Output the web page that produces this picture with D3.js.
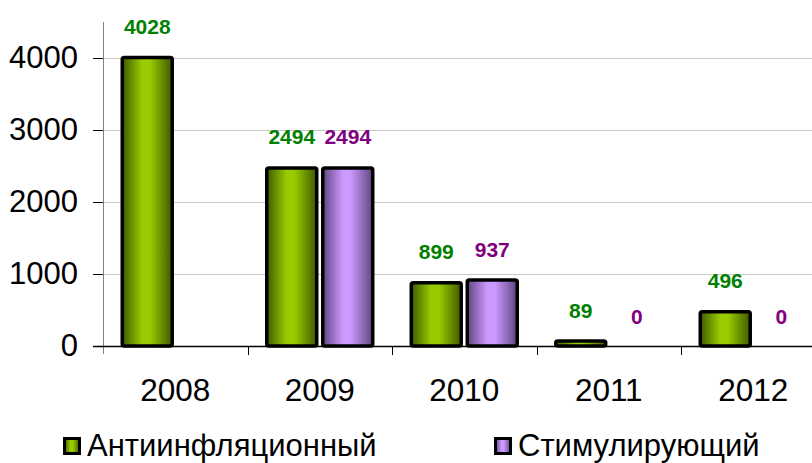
<!DOCTYPE html>
<html lang="ru">
<head>
    <meta charset="UTF-8">
    <title>Антиинфляционный / Стимулирующий</title>
    <script src="https://d3js.org/d3.v7.min.js"></script>
    <style>
        body { margin: 0; background: #fff; }
        svg { font-family: "Liberation Sans", Arial, sans-serif; }
        .val { font-weight: bold; font-size: 21px; text-anchor: middle; }
    </style>
</head>
<body>
    <div id="chart"></div>
    <script>
        // data
        var years = ["2008", "2009", "2010", "2011", "2012"];
        var antiValues = [4028, 2494, 899, 89, 496];
        var stimValues = [null, 2494, 937, 0, 0];
        var seriesNames = ["Антиинфляционный", "Стимулирующий"];
        var yTicks = [0, 1000, 2000, 3000, 4000];

        var width = 812, height = 463;
        var plotLeft = 103, plotTop = 22, plotBottom = 346;
        var step = 144.5;

        var svg = d3.select("#chart").append("svg")
            .attr("width", width)
            .attr("height", height);

        var defs = svg.append("defs");
        function cylinder(id, edge, mid) {
            var g = defs.append("linearGradient").attr("id", id)
                .attr("x1", "0%").attr("x2", "100%").attr("y1", "0%").attr("y2", "0%");
            g.append("stop").attr("offset", "0%").attr("stop-color", edge);
            g.append("stop").attr("offset", "40%").attr("stop-color", mid);
            g.append("stop").attr("offset", "55%").attr("stop-color", mid);
            g.append("stop").attr("offset", "100%").attr("stop-color", edge);
        }
        cylinder("gGreen", "#3f5a00", "#99cc00");
        cylinder("gPurple", "#5e4680", "#cc99ff");

        var x = d3.scaleBand().domain(years)
            .range([plotLeft, plotLeft + step * years.length])
            .padding(0);
        var x1 = d3.scaleBand().domain([0, 1])
            .range([0, x.bandwidth()])
            .paddingInner(0.054).paddingOuter(0.317);
        var y = d3.scaleLinear().domain([0, 4500]).range([plotBottom, plotTop]);

        // gridlines
        svg.append("g").selectAll("line")
            .data(yTicks.filter(function(d) { return d > 0; }))
            .enter().append("line")
            .attr("x1", plotLeft).attr("x2", width)
            .attr("y1", function(d) { return Math.round(y(d)) + 0.5; })
            .attr("y2", function(d) { return Math.round(y(d)) + 0.5; })
            .attr("stroke", "#c8c8c8").attr("stroke-width", 1);

        // y axis
        var yAxis = svg.append("g")
            .attr("transform", "translate(" + plotLeft + ",0)")
            .call(d3.axisLeft(y).tickValues(yTicks).tickSize(10).tickPadding(15).tickFormat(d3.format("d")));
        yAxis.select(".domain").remove();
        yAxis.selectAll("line").attr("stroke", "#000");
        yAxis.selectAll("text").attr("font-size", 31).attr("font-family", "Liberation Sans, Arial, sans-serif").attr("fill", "#000");
        svg.append("line")
            .attr("x1", plotLeft + 0.5).attr("x2", plotLeft + 0.5)
            .attr("y1", plotTop).attr("y2", plotBottom + 8)
            .attr("stroke", "#808080").attr("stroke-width", 1);

        // bars
        var series = [
            { values: antiValues, fill: "url(#gGreen)", color: "#008000" },
            { values: stimValues, fill: "url(#gPurple)", color: "#800080" }
        ];
        series.forEach(function(s, si) {
            var rows = years.map(function(yr, i) { return { year: yr, v: s.values[i] }; })
                .filter(function(d) { return d.v !== null; });
            var g = svg.append("g");
            g.selectAll("rect")
                .data(rows.filter(function(d) { return d.v > 0; }))
                .enter().append("rect")
                .attr("x", function(d) { return x(d.year) + x1(si) + 1.5; })
                .attr("width", x1.bandwidth() - 3)
                .attr("y", function(d) { return y(d.v) + 1.5; })
                .attr("height", function(d) { return Math.max(0, plotBottom - y(d.v) - 1.5); })
                .attr("rx", 2)
                .attr("fill", s.fill)
                .attr("stroke", "#000")
                .attr("stroke-width", 3.5);
            g.selectAll("text")
                .data(rows)
                .enter().append("text")
                .attr("class", "val")
                .attr("x", function(d) { return x(d.year) + x1(si) + x1.bandwidth() / 2; })
                .attr("y", function(d) { return y(d.v) - 22; })
                .attr("fill", s.color)
                .text(function(d) { return d.v; });
        });

        // x axis
        var xAxis = svg.append("g");
        xAxis.append("line")
            .attr("x1", plotLeft - 10).attr("x2", width)
            .attr("y1", plotBottom + 0.5).attr("y2", plotBottom + 0.5)
            .attr("stroke", "#000").attr("stroke-width", 1.5);
        xAxis.selectAll(".tk")
            .data(years.slice(1))
            .enter().append("line")
            .attr("x1", function(d) { return Math.round(x(d)) + 0.5; })
            .attr("x2", function(d) { return Math.round(x(d)) + 0.5; })
            .attr("y1", plotBottom).attr("y2", plotBottom + 9)
            .attr("stroke", "#000");
        xAxis.selectAll(".lbl")
            .data(years)
            .enter().append("text")
            .attr("x", function(d) { return x(d) + x.bandwidth() / 2; })
            .attr("y", 401)
            .attr("text-anchor", "middle")
            .attr("font-size", 31.5)
            .text(function(d) { return d; });

        // legend
        var legendX = [63, 494];
        var legend = svg.append("g");
        seriesNames.forEach(function(name, i) {
            legend.append("rect")
                .attr("x", legendX[i] + 1.5).attr("y", 438.5)
                .attr("width", 15).attr("height", 15)
                .attr("fill", series[i].fill)
                .attr("stroke", "#000").attr("stroke-width", 3);
            legend.append("text")
                .attr("x", legendX[i] + 24).attr("y", 456)
                .attr("font-size", 31)
                .text(name);
        });
    </script>
</body>
</html>
